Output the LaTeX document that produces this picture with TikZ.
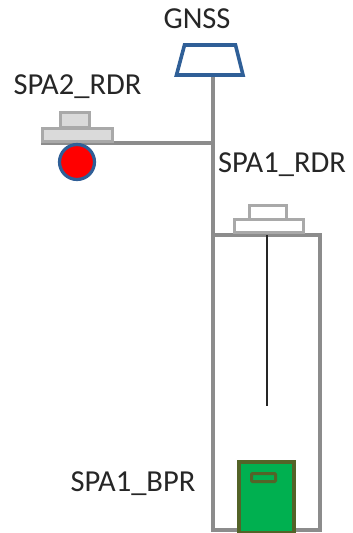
\documentclass[tikz,border=0pt]{standalone}
\usepackage{fontspec}
\setmainfont{Carlito}
\definecolor{navy}{HTML}{2F5F97}
\definecolor{pole}{HTML}{8C8C8C}
\definecolor{rdrline}{HTML}{A9A9A9}
\definecolor{rdrfill}{HTML}{DADADA}
\definecolor{bprfill}{HTML}{00B050}
\definecolor{bprline}{HTML}{536328}
\tikzset{
  lbl/.style={font=\fontsize{30.5}{35}\selectfont,text=black!85,inner sep=0pt},
  box/.style={draw,rectangle,inner sep=0pt,outer sep=0pt},
  rdr/.style={box,draw=rdrline,line width=3pt},
  polel/.style={draw=pole,line width=4.2pt}
}
\begin{document}
\begin{tikzpicture}[x=1pt,y=-1pt]
\useasboundingbox (0,0) rectangle (353,533);
% poles and well
\coordinate (top) at (213,75);
\coordinate (junction) at (213,143);
\coordinate (armend) at (41,143);
\coordinate (foot) at (213,530);
\coordinate (wellTL) at (213,235);
\coordinate (wellBR) at (320,530);
\coordinate (cableTop) at (267,235);
\coordinate (cableEnd) at (267,406);
\draw[polel] (top) -- (foot);
\draw[polel] (junction) -- (armend);
\draw[polel] (wellTL) rectangle (wellBR);
\draw[black!85,line width=1.4pt] (cableTop) -- (cableEnd);
% GNSS
\draw[navy,line width=3.6pt,fill=white,miter limit=5] (184.5,45) -- (235.5,45) -- (243,75) -- (176.5,75) -- cycle;
% SPA2
\node[rdr,fill=rdrfill,minimum width=29pt,minimum height=15pt] (spa2top) at (74.5,119.5) {};
\node[rdr,fill=rdrfill,minimum width=70pt,minimum height=13pt] (spa2base) at (77.5,135) {};
\node[circle,draw=navy,fill=red,line width=3.2pt,minimum size=35pt,inner sep=0pt] (spa2ball) at (77,162) {};
% SPA1
\node[rdr,fill=white,minimum width=37pt,minimum height=14pt] (spa1top) at (268,212.5) {};
\node[rdr,fill=white,minimum width=69pt,minimum height=13pt] (spa1base) at (268.5,226) {};
% BPR
\node[box,draw=bprline,fill=bprfill,line width=4pt,minimum width=55pt,minimum height=71pt] (bpr) at (266.5,497) {};
\node[box,draw=bprline,line width=3pt,rounded corners=1pt,minimum width=24pt,minimum height=8pt] (bprslot) at (263.5,477.5) {};
% labels
\node[lbl] (gnss) at (197,19) {GNSS};
\node[lbl] (spa2lbl) at (77.5,87) {SPA2\_RDR};
\node[lbl] (spa1lbl) at (282,165) {SPA1\_RDR};
\node[lbl] (bprlbl) at (133,484) {SPA1\_BPR};
\end{tikzpicture}
\end{document}
